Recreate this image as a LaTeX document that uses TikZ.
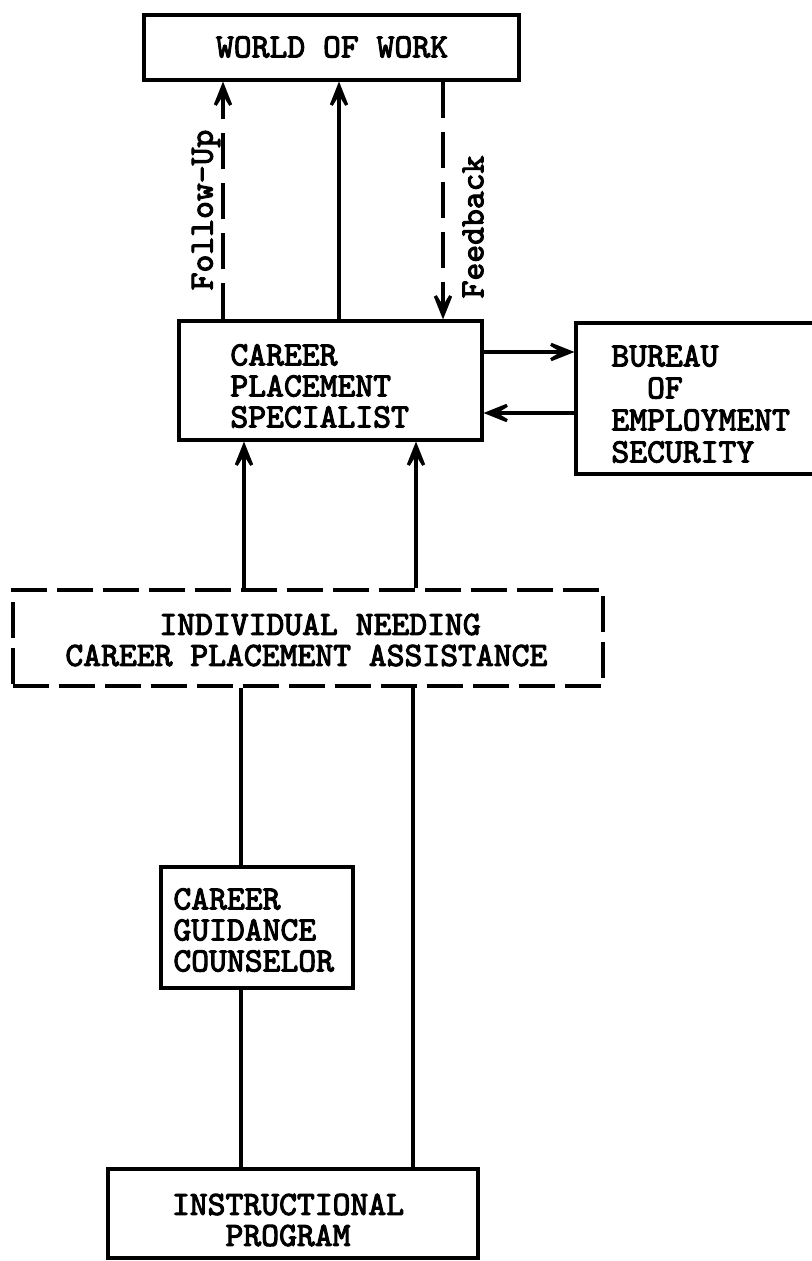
\documentclass[tikz,border=0pt]{standalone}
\usepackage{fontspec}
\usetikzlibrary{arrows.meta,fit}

\newfontfamily\typewriter{lmmono10-regular.otf}[FakeBold=3]

\tikzset{
  box/.style={draw, line width=1.6pt, inner sep=0pt},
  dbox/.style={box, dash pattern=on 18pt off 5pt},
  txt/.style={font=\typewriter\fontsize{17}{15.5}\selectfont, inner sep=0pt, align=left},
  tip/.style={-{Stealth[length=20pt,width=16pt,inset=13pt]}},
  flow/.style={line width=1.6pt, tip},
  dflow/.style={flow, dash pattern=on 18pt off 7pt},
  link/.style={line width=1.6pt}
}

\begin{document}
\begin{tikzpicture}[x=0.5pt,y=-0.5pt]
  % page frame
  \fill[white] (0,0) rectangle (811,1261);
  \useasboundingbox (0,0) rectangle (811,1261);

  % boxes
  \node[box, fit={(144,15) (519,80)}] (world) {};
  \node[txt] (worldText) at (332,47) {WORLD OF WORK};

  \node[box, fit={(179,321) (482,440)}] (cps) {};
  \node[txt, anchor=west] (cpsText) at (230,386) {CAREER\\PLACEMENT\\SPECIALIST};

  \node[box, fit={(576,323) (822,474)}] (bes) {};
  \node[txt, anchor=west, font=\typewriter\fontsize{17}{16}\selectfont] (besText) at (611,404)
    {BUREAU\\\phantom{BU}OF\\EMPLOYMENT\\SECURITY};

  \node[dbox, fit={(13,590) (603,686)}] (ind) {};
  \node[txt, anchor=west] (indText) at (65,640)
    {\hspace*{47pt}INDIVIDUAL NEEDING\\CAREER PLACEMENT ASSISTANCE};

  \node[box, fit={(161,867) (353,988)}] (cgc) {};
  \node[txt, anchor=west] (cgcText) at (173,930) {CAREER\\GUIDANCE\\COUNSELOR};

  \node[box, fit={(108,1169) (478,1258)}] (ip) {};
  \node[txt, align=center] (ipText) at (288,1220) {INSTRUCTIONAL\\PROGRAM};

  % side labels
  \node[txt, rotate=90] (fuText) at (206,210) {Follow-Up};
  \node[txt, rotate=90] (fbText) at (473,227) {Feedback};

  % column positions of the vertical connectors
  \coordinate (xa) at (223,0);
  \coordinate (xb) at (339,0);
  \coordinate (xc) at (443,0);
  \coordinate (xd) at (244,0);
  \coordinate (xe) at (416,0);
  \coordinate (xf) at (241,0);
  \coordinate (xg) at (413,0);
  % rows of the horizontal connectors
  \coordinate (ya) at (0,352);
  \coordinate (yb) at (0,413);

  % specialist <-> world of work
  \draw[dflow] (cps.north -| xa) -- (world.south -| xa);
  \draw[flow]  (cps.north -| xb) -- (world.south -| xb);
  \draw[dflow] (world.south -| xc) -- (cps.north -| xc);

  % specialist <-> bureau
  \draw[flow] (cps.east |- ya) -- (bes.west |- ya);
  \draw[flow] (bes.west |- yb) -- (cps.east |- yb);

  % individual -> specialist
  \draw[flow] (ind.north -| xd) -- (cps.south -| xd);
  \draw[flow] (ind.north -| xe) -- (cps.south -| xe);

  % instructional program -> counselor -> individual
  \draw[link] (ind.south -| xf) -- (cgc.north -| xf);
  \draw[link] (cgc.south -| xf) -- (ip.north -| xf);
  \draw[link] (ind.south -| xg) -- (ip.north -| xg);
\end{tikzpicture}
\end{document}
